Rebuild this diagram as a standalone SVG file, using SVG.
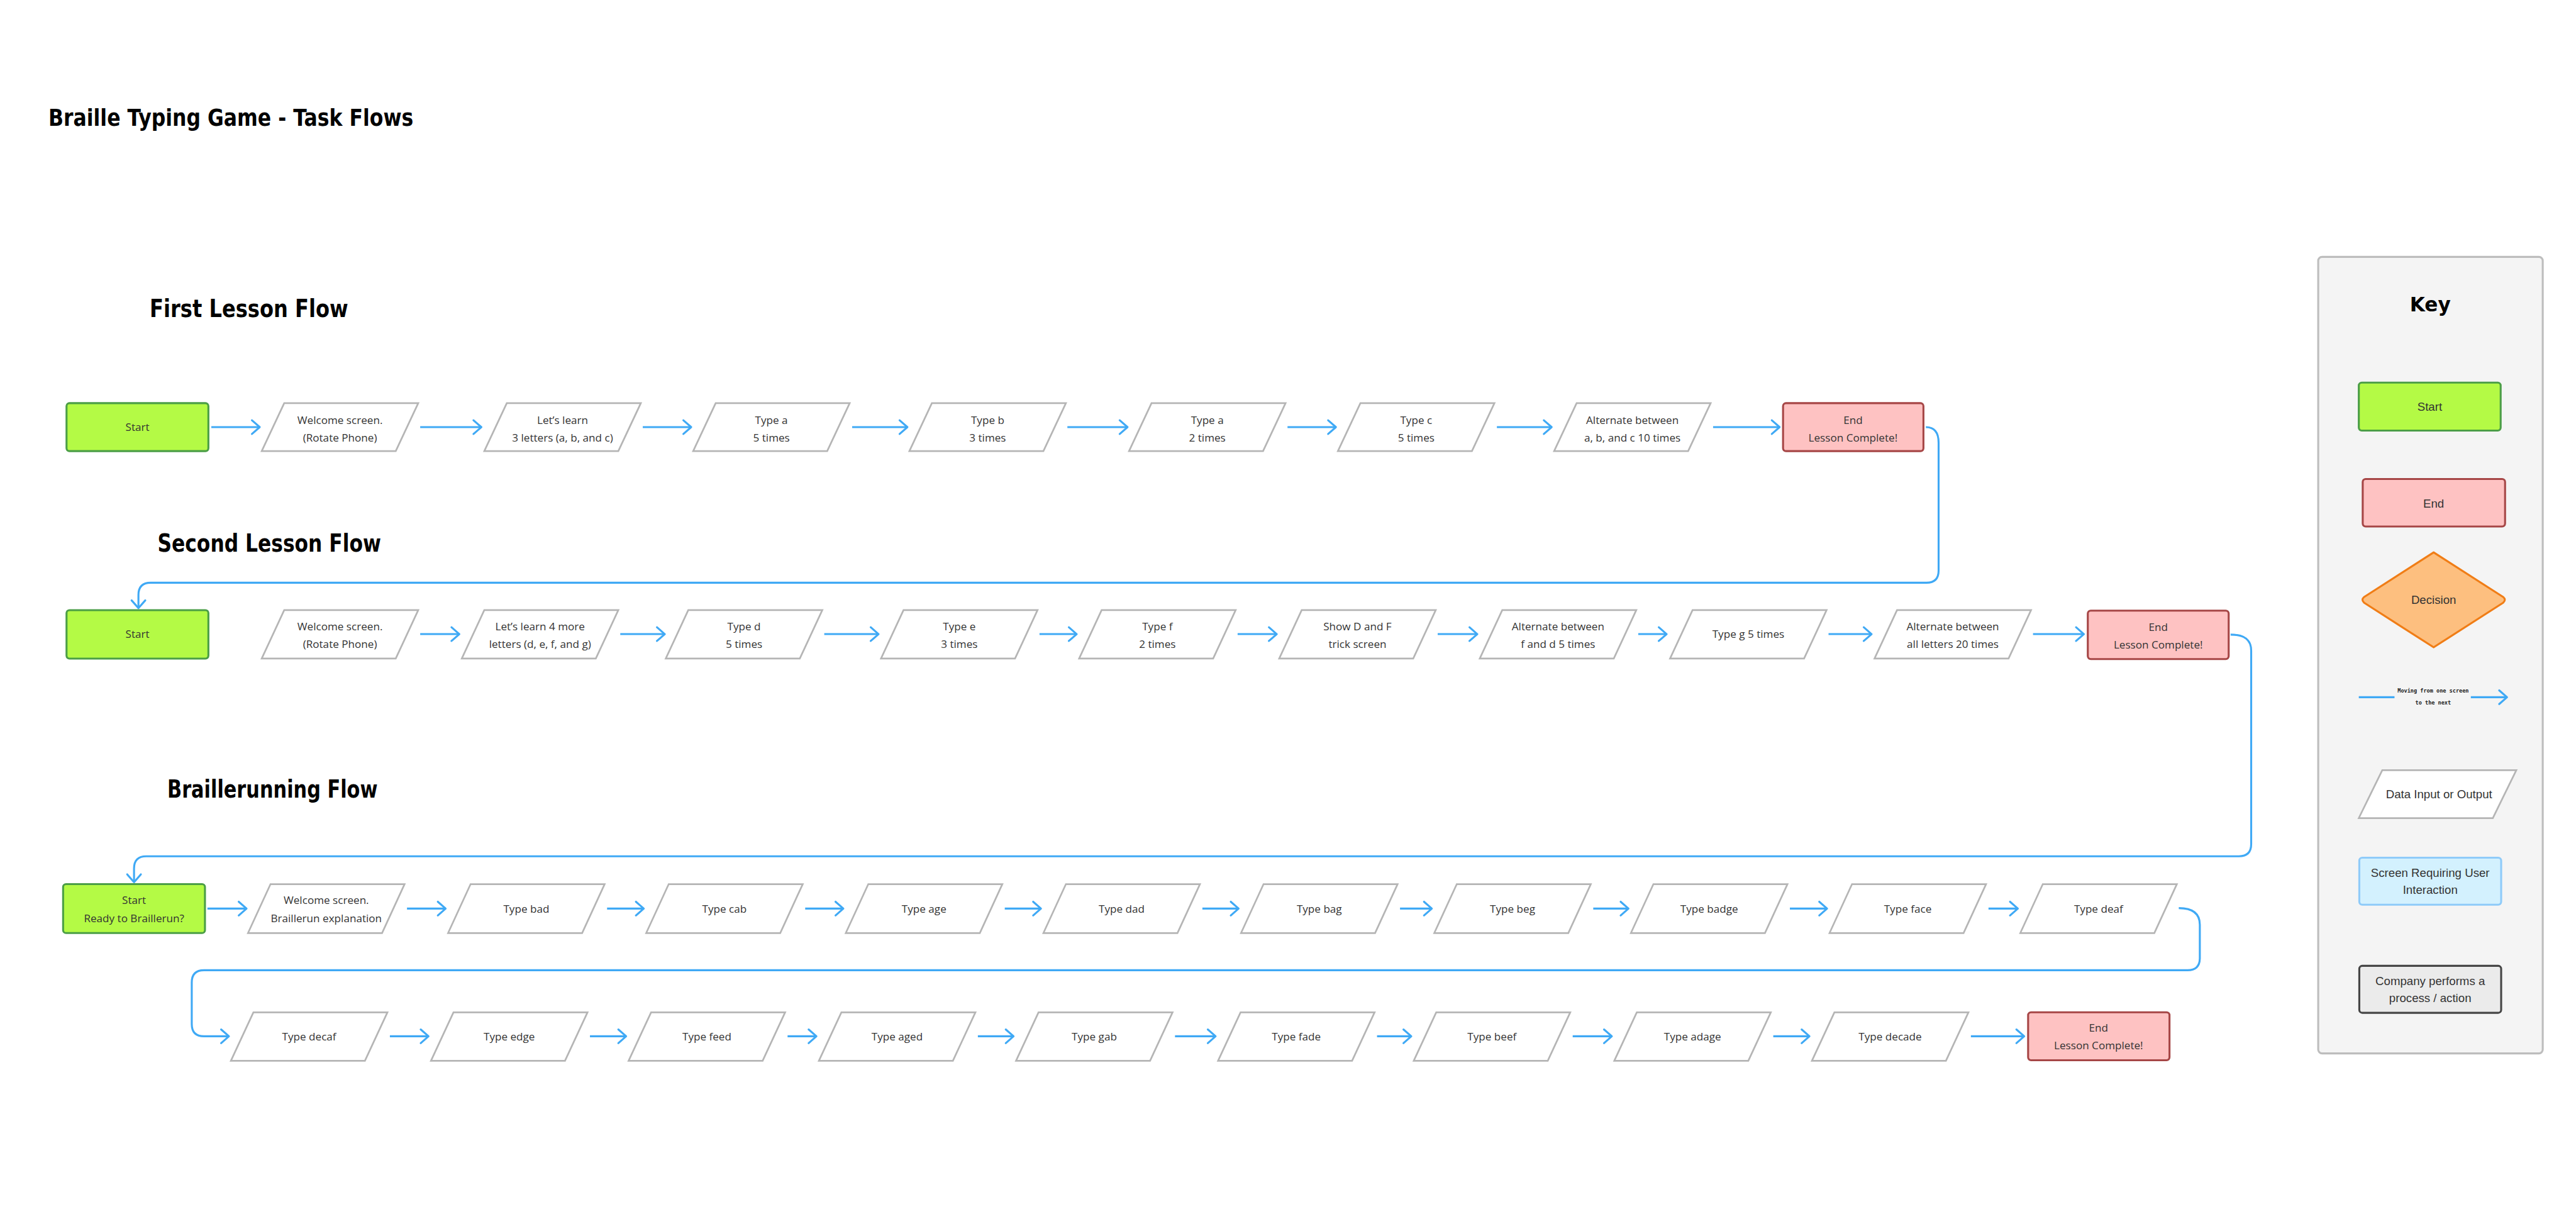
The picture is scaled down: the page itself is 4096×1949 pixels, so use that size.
<svg xmlns="http://www.w3.org/2000/svg" width="4096" height="1949" viewBox="0 0 4096 1949">
<defs>
<style>
.para{fill:#fff;stroke:#b5b5b5;stroke-width:3.5}
.start{fill:#b4fa45;stroke:#4b9e46;stroke-width:4}
.end{fill:#fec2c2;stroke:#a64646;stroke-width:4}
.t{font-family:"Open Sans","Liberation Sans",sans-serif;font-size:22px;fill:#333;text-anchor:middle}
.k{font-family:"Liberation Sans",Arial,sans-serif;font-size:24px;fill:#333;text-anchor:middle}
.h{font-family:"DejaVu Sans","Liberation Sans",sans-serif;font-weight:bold;fill:#000}
.km{font-family:"DejaVu Sans Mono","Liberation Mono",monospace;font-weight:bold;font-size:11px;fill:#222;text-anchor:middle}
.c{fill:none;stroke:#3fa9f5;stroke-width:4;marker-end:url(#ah)}
.cl{fill:none;stroke:#3fa9f5;stroke-width:4}
</style>
<marker id="ah" viewBox="-22 -18 26 36" refX="0" refY="0" markerWidth="26" markerHeight="36" markerUnits="userSpaceOnUse" orient="auto">
<path d="M-16,-14 L0,0 L-16,14" fill="none" stroke="#3fa9f5" stroke-width="4" stroke-linecap="round" stroke-linejoin="round"/>
</marker>
</defs>
<rect width="4096" height="1949" fill="#fff"/>
<g transform="scale(0.77782)">
<text class="h" x="99" y="257" font-size="48" textLength="746" lengthAdjust="spacingAndGlyphs">Braille Typing Game - Task Flows</text>
<text class="h" x="306" y="648" font-size="50" textLength="406" lengthAdjust="spacingAndGlyphs">First Lesson Flow</text>
<text class="h" x="322" y="1128" font-size="50" textLength="457" lengthAdjust="spacingAndGlyphs">Second Lesson Flow</text>
<text class="h" x="342" y="1630" font-size="50" textLength="430" lengthAdjust="spacingAndGlyphs">Braillerunning Flow</text>

<g id="connectors">
<!-- row 1 -->
<path class="c" d="M432,873H531"/>
<path class="c" d="M859,873H984"/>
<path class="c" d="M1314,873H1413"/>
<path class="c" d="M1742,873H1855"/>
<path class="c" d="M2182,873H2305"/>
<path class="c" d="M2632,873H2731"/>
<path class="c" d="M3060,873H3172"/>
<path class="c" d="M3502,873H3638"/>
<path class="c" d="M3937,873C3955,873 3963,885 3963,905V1166Q3963,1191 3938,1191H308Q283,1191 283,1216V1243"/>
<!-- row 2 -->
<path class="c" d="M859,1296H939"/>
<path class="c" d="M1268,1296H1359"/>
<path class="c" d="M1685,1296H1796"/>
<path class="c" d="M2125,1296H2201"/>
<path class="c" d="M2530,1296H2610"/>
<path class="c" d="M2939,1296H3020"/>
<path class="c" d="M3349,1296H3407"/>
<path class="c" d="M3738,1296H3826"/>
<path class="c" d="M4156,1296H4260"/>
<path class="c" d="M4560,1297C4585,1297 4602,1305 4602,1330V1725Q4602,1750 4577,1750H299Q274,1750 274,1775V1803"/>
<!-- row 3 -->
<path class="c" d="M424,1857H504"/>
<path class="c" d="M832,1857H911"/>
<path class="c" d="M1241,1857H1316"/>
<path class="c" d="M1646,1857H1724"/>
<path class="c" d="M2054,1857H2128"/>
<path class="c" d="M2458,1857H2532"/>
<path class="c" d="M2862,1857H2927"/>
<path class="c" d="M3257,1857H3329"/>
<path class="c" d="M3659,1857H3735"/>
<path class="c" d="M4065,1857H4125"/>
<path class="c" d="M4454,1856C4480,1856 4497,1865 4497,1890V1958Q4497,1983 4472,1983H417Q392,1983 392,2008V2093Q392,2118 417,2118H468"/>
<!-- row 4 -->
<path class="c" d="M797,2118H876"/>
<path class="c" d="M1206,2118H1280"/>
<path class="c" d="M1610,2118H1669"/>
<path class="c" d="M1999,2118H2072"/>
<path class="c" d="M2402,2118H2485"/>
<path class="c" d="M2815,2118H2885"/>
<path class="c" d="M3215,2118H3295"/>
<path class="c" d="M3625,2118H3699"/>
<path class="c" d="M4029,2118H4138"/>
</g>

<!-- Row 1 -->
<g id="r1-start"><rect class="start" x="136" y="824" width="290" height="98" rx="6"/><text class="t" x="281" y="881">Start</text></g>
<g id="r1-welcome"><polygon class="para" points="581,824 855,824 809,922 535,922"/><text class="t" x="695" y="866">Welcome screen.</text><text class="t" x="695" y="902">(Rotate Phone)</text></g>
<g id="r1-learn"><polygon class="para" points="1036,824 1310,824 1264,922 990,922"/><text class="t" x="1150" y="866">Let’s learn</text><text class="t" x="1150" y="902">3 letters (a, b, and c)</text></g>
<g id="r1-typea5"><polygon class="para" points="1463,824 1737,824 1691,922 1417,922"/><text class="t" x="1577" y="866">Type a</text><text class="t" x="1577" y="902">5 times</text></g>
<g id="r1-typeb3"><polygon class="para" points="1905,824 2179,824 2133,922 1859,922"/><text class="t" x="2019" y="866">Type b</text><text class="t" x="2019" y="902">3 times</text></g>
<g id="r1-typea2"><polygon class="para" points="2354,824 2628,824 2582,922 2308,922"/><text class="t" x="2468" y="866">Type a</text><text class="t" x="2468" y="902">2 times</text></g>
<g id="r1-typec5"><polygon class="para" points="2781,824 3055,824 3009,922 2735,922"/><text class="t" x="2895" y="866">Type c</text><text class="t" x="2895" y="902">5 times</text></g>
<g id="r1-alt"><polygon class="para" points="3223,824 3497,824 3451,922 3177,922"/><text class="t" x="3337" y="866">Alternate between</text><text class="t" x="3337" y="902">a, b, and c 10 times</text></g>
<g id="r1-end"><rect class="end" x="3645" y="824" width="287" height="98" rx="6"/><text class="t" x="3788" y="866">End</text><text class="t" x="3788" y="902">Lesson Complete!</text></g>

<!-- Row 2 -->
<g id="r2-start"><rect class="start" x="136" y="1247" width="290" height="99" rx="6"/><text class="t" x="281" y="1304">Start</text></g>
<g id="r2-welcome"><polygon class="para" points="581,1247 855,1247 809,1346 535,1346"/><text class="t" x="695" y="1288">Welcome screen.</text><text class="t" x="695" y="1324">(Rotate Phone)</text></g>
<g id="r2-learn"><polygon class="para" points="990,1247 1264,1247 1218,1346 944,1346"/><text class="t" x="1104" y="1288">Let’s learn 4 more</text><text class="t" x="1104" y="1324">letters (d, e, f, and g)</text></g>
<g id="r2-typed"><polygon class="para" points="1407,1247 1681,1247 1635,1346 1361,1346"/><text class="t" x="1521" y="1288">Type d</text><text class="t" x="1521" y="1324">5 times</text></g>
<g id="r2-typee"><polygon class="para" points="1847,1247 2121,1247 2075,1346 1801,1346"/><text class="t" x="1961" y="1288">Type e</text><text class="t" x="1961" y="1324">3 times</text></g>
<g id="r2-typef"><polygon class="para" points="2252,1247 2526,1247 2480,1346 2206,1346"/><text class="t" x="2366" y="1288">Type f</text><text class="t" x="2366" y="1324">2 times</text></g>
<g id="r2-show"><polygon class="para" points="2661,1247 2935,1247 2889,1346 2615,1346"/><text class="t" x="2775" y="1288">Show D and F</text><text class="t" x="2775" y="1324">trick screen</text></g>
<g id="r2-altfd"><polygon class="para" points="3071,1247 3345,1247 3299,1346 3025,1346"/><text class="t" x="3185" y="1288">Alternate between</text><text class="t" x="3185" y="1324">f and d 5 times</text></g>
<g id="r2-typeg"><polygon class="para" points="3460,1247 3734,1247 3688,1346 3414,1346"/><text class="t" x="3574" y="1304">Type g 5 times</text></g>
<g id="r2-altall"><polygon class="para" points="3878,1247 4152,1247 4106,1346 3832,1346"/><text class="t" x="3992" y="1288">Alternate between</text><text class="t" x="3992" y="1324">all letters 20 times</text></g>
<g id="r2-end"><rect class="end" x="4268" y="1248" width="288" height="99" rx="6"/><text class="t" x="4412" y="1289">End</text><text class="t" x="4412" y="1325">Lesson Complete!</text></g>

<!-- Row 3 -->
<g id="r3-start"><rect class="start" x="129" y="1807" width="290" height="100" rx="6"/><text class="t" x="274" y="1848">Start</text><text class="t" x="274" y="1885">Ready to Braillerun?</text></g>
<g id="r3-welcome"><polygon class="para" points="553,1807 827,1807 781,1907 507,1907"/><text class="t" x="667" y="1848">Welcome screen.</text><text class="t" x="667" y="1885">Braillerun explanation</text></g>
<g id="r3-bad"><polygon class="para" points="962,1807 1236,1807 1190,1907 916,1907"/><text class="t" x="1076" y="1865">Type bad</text></g>
<g id="r3-cab"><polygon class="para" points="1367,1807 1641,1807 1595,1907 1321,1907"/><text class="t" x="1481" y="1865">Type cab</text></g>
<g id="r3-age"><polygon class="para" points="1775,1807 2049,1807 2003,1907 1729,1907"/><text class="t" x="1889" y="1865">Type age</text></g>
<g id="r3-dad"><polygon class="para" points="2179,1807 2453,1807 2407,1907 2133,1907"/><text class="t" x="2293" y="1865">Type dad</text></g>
<g id="r3-bag"><polygon class="para" points="2583,1807 2857,1807 2811,1907 2537,1907"/><text class="t" x="2697" y="1865">Type bag</text></g>
<g id="r3-beg"><polygon class="para" points="2978,1807 3252,1807 3206,1907 2932,1907"/><text class="t" x="3092" y="1865">Type beg</text></g>
<g id="r3-badge"><polygon class="para" points="3380,1807 3654,1807 3608,1907 3334,1907"/><text class="t" x="3494" y="1865">Type badge</text></g>
<g id="r3-face"><polygon class="para" points="3786,1807 4060,1807 4014,1907 3740,1907"/><text class="t" x="3900" y="1865">Type face</text></g>
<g id="r3-deaf"><polygon class="para" points="4176,1807 4450,1807 4404,1907 4130,1907"/><text class="t" x="4290" y="1865">Type deaf</text></g>

<!-- Row 4 -->
<g id="r4-decaf"><polygon class="para" points="518,2069 792,2069 746,2168 472,2168"/><text class="t" x="632" y="2126">Type decaf</text></g>
<g id="r4-edge"><polygon class="para" points="927,2069 1201,2069 1155,2168 881,2168"/><text class="t" x="1041" y="2126">Type edge</text></g>
<g id="r4-feed"><polygon class="para" points="1331,2069 1605,2069 1559,2168 1285,2168"/><text class="t" x="1445" y="2126">Type feed</text></g>
<g id="r4-aged"><polygon class="para" points="1720,2069 1994,2069 1948,2168 1674,2168"/><text class="t" x="1834" y="2126">Type aged</text></g>
<g id="r4-gab"><polygon class="para" points="2123,2069 2397,2069 2351,2168 2077,2168"/><text class="t" x="2237" y="2126">Type gab</text></g>
<g id="r4-fade"><polygon class="para" points="2536,2069 2810,2069 2764,2168 2490,2168"/><text class="t" x="2650" y="2126">Type fade</text></g>
<g id="r4-beef"><polygon class="para" points="2936,2069 3210,2069 3164,2168 2890,2168"/><text class="t" x="3050" y="2126">Type beef</text></g>
<g id="r4-adage"><polygon class="para" points="3346,2069 3620,2069 3574,2168 3300,2168"/><text class="t" x="3460" y="2126">Type adage</text></g>
<g id="r4-decade"><polygon class="para" points="3750,2069 4024,2069 3978,2168 3704,2168"/><text class="t" x="3864" y="2126">Type decade</text></g>
<g id="r4-end"><rect class="end" x="4146" y="2069" width="289" height="98" rx="6"/><text class="t" x="4290" y="2108">End</text><text class="t" x="4290" y="2145">Lesson Complete!</text></g>

<!-- Key -->
<g id="key">
<rect x="4739" y="525" width="459" height="1628" rx="8" fill="#f4f4f4" stroke="#bdbdbd" stroke-width="4"/>
<text class="h" x="4968" y="637" font-size="40" text-anchor="middle">Key</text>
<g id="key-start"><rect class="start" x="4822" y="782" width="290" height="98" rx="6"/><text class="k" x="4967" y="839">Start</text></g>
<g id="key-end"><rect class="end" x="4830" y="979" width="291" height="97" rx="6"/><text class="k" x="4975" y="1037">End</text></g>
<g id="key-decision"><path d="M4975,1129 L5117,1220 Q5124,1226 5117,1232 L4975,1323 L4833,1232 Q4826,1226 4833,1220 Z" fill="#fdbf7f" stroke="#f07d16" stroke-width="4" stroke-linejoin="round"/><text class="k" x="4975" y="1234">Decision</text></g>
<g id="key-arrow"><path class="cl" d="M4822,1425H4895"/><path class="c" d="M5051,1425H5125"/><text class="km" x="4974" y="1416">Moving from one screen</text><text class="km" x="4974" y="1440">to the next</text></g>
<g id="key-data"><polygon class="para" points="4870,1574 5144,1574 5096,1672 4822,1672"/><text class="k" x="4986" y="1631">Data Input or Output</text></g>
<g id="key-screen"><rect x="4823" y="1753" width="290" height="96" rx="6" fill="#d3f1fe" stroke="#8fcbf9" stroke-width="4"/><text class="k" x="4968" y="1792">Screen Requiring User</text><text class="k" x="4968" y="1827">Interaction</text></g>
<g id="key-company"><rect x="4823" y="1974" width="290" height="96" rx="6" fill="#ebebeb" stroke="#454545" stroke-width="4"/><text class="k" x="4968" y="2013">Company performs a</text><text class="k" x="4968" y="2048">process / action</text></g>
</g>
</g>
</svg>
